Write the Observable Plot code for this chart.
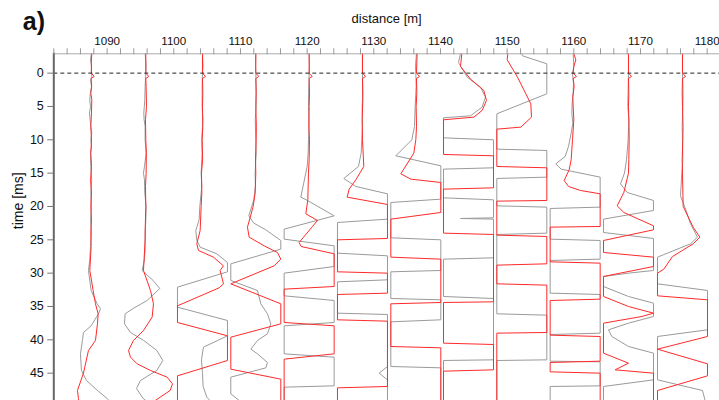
<!DOCTYPE html>
<html><head><meta charset="utf-8">
<script src="https://cdn.jsdelivr.net/npm/d3@7"></script>
<script src="https://cdn.jsdelivr.net/npm/@observablehq/plot@0.6"></script>
<style>body{margin:0;background:#fff;} svg{display:block;}</style>
</head><body><div id="chart"></div>
<script>
// trace positions along the profile (m)
const positions = [1087.6, 1095.8, 1104.3, 1112.3, 1120.3, 1128.3, 1136.3, 1144.2, 1152.2, 1160.2, 1168.2, 1176.3];
const xTicks = d3.range(1082, 1182, 2);
const yTicks = [0, 5, 10, 15, 20, 25, 30, 35, 40, 45];
// [time ms, displacement m] per trace
const gray1 = [[-3,0.05],[-2,-0.1],[-1,0.08],[0,0],[0.5,0.1],[1,-0.08],[2,0.05],[3,-0.12],[4,-0.2],[5,-0.1],[6,-0.25],[7,-0.15],[8,-0.05],[9,0.1],[10,-0.05],[11,0.08],[12,-0.1],[14,-0.05],[16,0.08],[18,-0.05],[20,0.05],[22,-0.08],[24,0.05],[26,-0.1],[28,-0.2],[29.6,-0.4],[32.6,0],[34.6,0.9],[35.3,1.4],[36.1,1.1],[37.9,0],[38.9,-1.15],[40.1,-1.3],[42.1,-1.6],[44.6,-1.45],[46.1,-0.7],[47.6,0.95],[48.8,2.4],[49.5,3.0]];
const red1 = [[-3,0.1],[-1.5,0.02],[0,0.05],[0.5,0.45],[0.8,0],[2,0.08],[3,-0.05],[4,0.1],[6,0.05],[8,-0.05],[10,0.05],[12,-0.05],[14,0.05],[16,-0.08],[18,0.05],[20,-0.05],[22,0.05],[24,-0.05],[26,0],[29.6,-0.2],[32.6,0.3],[34.6,0.65],[36.1,1.05],[37.6,0.95],[40.1,0.65],[41.6,-0.4],[45,-1.15],[47.6,-2.05],[48.8,-1.9],[49.5,-1.8]];
const gray2 = [[-3,-0.1],[-1,0.05],[0,0],[2,-0.1],[4,-0.15],[6,-0.3],[7,-0.25],[8,-0.1],[10,-0.1],[12,0.05],[14,-0.2],[15,-0.35],[16,-0.2],[18,-0.15],[20,0.05],[22,0],[24,-0.1],[26,-0.1],[28,-0.2],[29.6,-0.55],[31.1,1.1],[32.3,2.1],[34.1,0.2],[35.3,-1.9],[36.1,-3.1],[37.6,-3.2],[38.9,-2.3],[40.1,-0.3],[41.6,1.65],[43.1,2.55],[44.6,1.65],[46.1,-0.8],[47.3,-1.4],[48.8,-0.4],[49.5,0.5]];
const red2 = [[-3,0],[0,0],[0.5,0.45],[0.8,0],[2,0.05],[5,0.1],[7,-0.05],[10,0],[12,0.08],[15,0.05],[17,-0.05],[20,0],[23,-0.08],[25,-0.1],[29.6,-0.35],[32.6,0.7],[34.6,1.15],[36.6,0.95],[38.6,-0.35],[40.1,-1.85],[41.6,-2.6],[42.6,-2.3],[43.6,-1.3],[44.6,0.7],[45.6,3.2],[46.6,4.0],[47.6,3.65],[48.9,1.7],[49.5,0.8]];
const gray3 = [[-3,0],[-1,0.08],[0,0],[2,-0.05],[5,-0.05],[7,0.05],[10,-0.1],[12,-0.05],[15,-0.2],[17,-0.1],[20,-0.4],[22,-0.5],[23.6,-1.0],[25.1,-0.85],[26.1,-0.35],[27.1,2.15],[28.4,3.75],[29.8,3.75],[32.1,-3.75],[35.1,-3.75],[37.1,3.75],[39.4,3.75],[41.1,0.15],[43,-0.15],[45,0],[47,0.1],[48.6,0.65],[49.5,1.5]];
const red3 = [[-3,0],[0,0],[0.5,0.45],[0.8,0],[3,0.05],[5,0],[8,0.05],[10,-0.05],[13,0.02],[15,-0.15],[18,-0.1],[20,-0.2],[23.6,-0.35],[25.6,-0.85],[26.6,-0.6],[27.6,1.65],[28.9,3.15],[29.6,2.65],[31.6,3.15],[32.2,2.5],[34.9,-3.75],[37.4,-3.75],[39.4,3.75],[43.1,3.75],[45.4,-3.75],[49.5,-3.75]];
const gray4 = [[-3,0],[-1,-0.05],[0,0],[2,0.05],[5,0.05],[7,-0.08],[10,0],[12,0.05],[15,-0.1],[17,-0.05],[19,-0.3],[21.4,-1.05],[22.5,-0.3],[23.5,1.5],[25.1,3.75],[26.4,3.75],[28.6,-3.75],[31.1,-3.75],[32.6,0.25],[34.6,0.75],[36.1,1.75],[37.6,2.25],[39.1,1.75],[40.1,0.25],[41.4,-0.75],[42.1,0.25],[43.4,1.75],[44.2,1.5],[45.6,-3.75],[48.1,-3.75],[49.5,-2]];
const red4 = [[-3,0],[0,0],[0.5,0.45],[0.8,0],[3,0.05],[5,0],[8,0.08],[10,0.05],[13,-0.05],[15,0],[18,-0.1],[20,-0.4],[23.1,-1.25],[24.6,-1.0],[25.9,1.25],[26.9,3.25],[27.9,3.75],[28.9,2.75],[31.6,-3.75],[34.6,3.75],[37.6,3.75],[39.6,-3.75],[44.4,-3.75],[45.9,3.75],[49.5,3.75]];
const gray5 = [[-3,0],[-1,0.05],[0,0],[3,-0.08],[5,-0.1],[8,0],[10,-0.1],[12,-0.15],[14,-0.3],[17.4,-1.0],[18.6,-1.25],[19.1,-0.25],[21.4,3.75],[23.4,-3.75],[24.9,-3.75],[25.9,3.75],[29,3.75],[30,-3.75],[33.4,-3.75],[34.1,3.75],[37.4,3.75],[37.9,-3.75],[42.1,-3.75],[42.6,3.75],[46.9,3.75],[47.1,-3.75],[49.5,-3.75]];
const red5 = [[-3,0],[0,0],[0.5,0.45],[0.8,0],[3,0.05],[5,0],[8,-0.05],[10,0.05],[13,0],[15,-0.1],[19,-0.2],[21.1,-0.5],[22.1,1.25],[23,0.5],[25.4,-1.5],[26,-1.2],[27.1,3.75],[32,3.75],[32.4,-3.75],[37.4,-3.75],[37.9,3.75],[42.1,3.75],[42.9,-3.75],[49.5,-3.75]];
const gray6 = [[-3,0],[0,0],[3,0.05],[5,-0.05],[8,0],[10,-0.1],[12,-0.2],[14,-0.6],[15.8,-2.8],[17,-1],[18.1,3.75],[21.9,3.75],[22.4,-3.75],[27,-3.75],[27.4,3.75],[31,3.75],[31.3,-3.75],[36,-3.75],[36.2,3.75],[44,3.75],[45,2.5],[46,3.75],[49.5,3.75]];
const red6 = [[-3,0],[0,0],[0.5,0.45],[0.8,0],[4,0.05],[7,-0.05],[10,0],[12,0.1],[14,0.2],[16,-1],[17.4,-2.0],[18.6,-2.3],[19.7,3.75],[24.8,3.75],[25,-3.75],[29.8,-3.75],[30,3.75],[33,3.75],[33.2,-3.75],[37,-3.75],[37.2,3.75],[47,3.75],[47.2,-3.75],[49.5,-3.75]];
const gray7 = [[-3,0.1],[-1,-0.05],[0,0],[2,0.05],[5,-0.1],[8,-0.2],[10,-0.6],[12.4,-3.0],[13.9,3.75],[18.9,3.75],[19.4,-3.75],[24.7,-3.75],[25,3.75],[29.6,3.75],[29.8,-3.75],[33.8,-3.75],[34,3.75],[37,3.75],[37.3,-3.75],[44,-3.75],[44.2,3.75],[49.5,3.75]];
const red7 = [[-3,0.2],[0,0.1],[0.5,0.55],[0.8,0.1],[3,0.15],[5,0.05],[8,0.1],[10,0],[12,-0.3],[15.1,-2.25],[15.9,-0.75],[16.4,3.75],[20.9,3.75],[21.9,-3.75],[27.6,-3.75],[27.9,3.75],[34.4,3.75],[34.6,-3.75],[41,-3.75],[41.2,3.75],[49.5,3.75]];
const gray8 = [[-2.9,-1.2],[-1.6,-1.5],[0.6,-0.2],[2.1,1.8],[3.6,2.55],[5.1,2.05],[6.4,0.3],[6.7,-3.75],[9.7,-3.75],[10,3.75],[14.2,3.75],[14.4,-3.75],[18.7,-3.75],[19,3.75],[21.7,3.75],[21.8,-1.2],[21.9,3.75],[27.7,3.75],[27.9,-3.75],[33.5,-3.75],[33.8,3.75],[43,3.75],[43.1,-3.75],[49.5,-3.75]];
const red8 = [[-2.9,-1.0],[-1,-1.2],[0.9,0.3],[2.6,2.3],[4.1,2.7],[5.6,2.05],[6.6,0.8],[7,-3.75],[12.2,-3.75],[12.4,3.75],[17.2,3.75],[17.4,-3.75],[24,-3.75],[24.2,3.75],[34.3,3.75],[34.4,-3.75],[40.5,-3.75],[40.7,3.75],[44.5,3.75],[44.7,-3.75],[49.5,-3.75]];
const gray9 = [[-2.9,0.0],[-2.6,0.1],[-1.4,3.75],[3.1,3.75],[6.1,-3.75],[11.4,-3.75],[11.6,3.75],[15.6,3.75],[15.8,-3.75],[19.9,-3.75],[20.1,3.75],[24,3.75],[24.2,-3.75],[36.1,-3.75],[36.3,3.75],[43,3.75],[43.1,-3.75],[49.5,-3.75]];
const red9 = [[-2.9,-2.1],[-2,-2.2],[0.6,-0.65],[3.1,0.6],[4.6,1.35],[6.6,1.45],[8.1,-0.15],[8.4,-3.75],[14,-3.75],[14.2,3.75],[19.1,3.75],[19.2,-3.75],[24.3,-3.75],[24.5,3.75],[28.6,3.75],[28.8,-3.75],[31.6,-3.75],[31.8,3.75],[38.9,3.75],[39,-3.75],[49.5,-3.75]];
const gray10 = [[-2.9,-0.3],[-1,-0.2],[0,-0.4],[1.5,-0.25],[3,-0.3],[4.5,-0.45],[6,-0.5],[7.5,-0.35],[9,-0.6],[11,-1.0],[12.5,-1.5],[13.6,-2.9],[14.4,-2.1],[15.6,3.75],[20.1,3.75],[20.3,-3.75],[24.9,-3.75],[25.1,3.75],[27.9,3.75],[28.1,-3.75],[33,-3.75],[33.2,3.75],[39,3.75],[39.2,-3.75],[43.2,-3.75],[43.3,3.75],[46.9,3.75],[47,-3.75],[49.5,-3.75]];
const red10 = [[-2.9,-0.2],[-2,0.1],[-1,-0.2],[0,-0.3],[0.5,0.2],[0.8,-0.3],[2,-0.15],[3.5,-0.35],[5,-0.3],[7,-0.2],[10,-0.4],[13,-0.6],[14.5,-0.9],[16.1,-1.65],[17,-1.0],[17.6,0.8],[18.1,3.75],[23,3.75],[23.1,-3.75],[28.3,-3.75],[28.5,3.75],[33.9,3.75],[34.1,-3.75],[39.3,-3.75],[39.5,3.75],[43.2,3.75],[43.4,-3.75],[44.8,-3.75],[45,3.75],[49.5,3.75]];
const gray11 = [[-2.9,0],[0,0],[2,-0.05],[5,-0.1],[7,0.05],[10,-0.05],[13,-0.3],[15,-0.6],[16.6,-1.2],[17.9,-0.2],[19.1,3.75],[20.6,3.75],[21.9,-3.75],[23.9,-3.75],[24.8,3.75],[29.6,3.75],[30,0],[30.5,-3.75],[32,-3.75],[33.5,0],[34.5,3.75],[36.5,3.75],[37.5,0],[38.5,-3],[39.5,-2.5],[41,0],[42,3.75],[46,3.75],[47,-3.75],[49.5,-3.75]];
const red11 = [[-2.9,0],[0,0],[0.5,0.45],[0.8,0],[3,0.05],[5,0],[8,0.08],[10,0.1],[13,0.05],[15,0],[17.9,-0.7],[19.9,-1.7],[20.9,-0.7],[22.9,3.75],[23.5,3.75],[25.1,-3.75],[26.9,-3.75],[27.6,3.75],[29,3.75],[30.5,-3.75],[33.5,-3.75],[35,0],[36,3.75],[36.5,2],[37.5,-3.75],[42,-3.75],[43.5,0],[44.5,-2],[45,3.75],[49.5,3.75]];
const gray12 = [[-2.9,0],[0,0],[3,0.08],[5,0.05],[8,-0.05],[10,0],[13,0.05],[15,-0.1],[18.4,-0.3],[20.5,0.5],[22.6,1.2],[24.6,2.25],[25.6,1.2],[27.6,-3.75],[31.6,-3.75],[32.6,3.75],[38.5,3.75],[39.5,-3.75],[46,-3.75],[47.6,3.0],[49.5,3.5]];
const red12 = [[-2.9,0],[0,0],[0.5,0.45],[0.8,0],[3,-0.05],[5,0],[8,0.08],[10,0.05],[13,-0.05],[15,0],[20,0.1],[23.1,1.6],[24.6,2.6],[25.6,1.6],[27.5,-1.5],[29.4,-2.8],[30,-3.75],[33.4,-3.75],[34,3.75],[39.5,3.75],[41.4,-3.75],[43.6,3.75],[45.4,3.75],[47.6,-3.75],[49.5,-3.75]];

const grays = [gray1,gray2,gray3,gray4,gray5,gray6,gray7,gray8,gray9,gray10,gray11,gray12];
const reds = [red1,red2,red3,red4,red5,red6,red7,red8,red9,red10,red11,red12];

const traceMarks = [];
grays.forEach((g, i) => traceMarks.push(Plot.line(g, {x: d => positions[i] + d[1], y: d => d[0], stroke: "#9a9a9a", strokeWidth: 1, clip: true})));
reds.forEach((r, i) => traceMarks.push(Plot.line(r, {x: d => positions[i] + d[1], y: d => d[0], stroke: "#ff2a2a", strokeWidth: 1, clip: true})));

const chart = Plot.plot({
  width: 719, height: 400,
  marginTop: 53.3, marginLeft: 53.3, marginRight: 0, marginBottom: 0,
  style: {fontFamily: "'Liberation Sans', Arial, sans-serif", fontSize: "12px", color: "#111", background: "#fff"},
  x: {domain: [1082, 1181.85]},
  y: {domain: [-2.9, 49.1], reverse: true},
  marks: [
    ...traceMarks,
    Plot.ruleY([0], {stroke: "#222", strokeDasharray: "4,3", strokeWidth: 1}),
    Plot.frame({anchor: "top", stroke: "#aaa"}),
    Plot.frame({anchor: "left", stroke: "#666", strokeWidth: 2}),
    Plot.axisX({anchor: "top", ticks: xTicks, tickSize: 6, tickFormat: d => d % 10 === 0 ? String(d) : "", stroke: "#999", label: null, tickPadding: 3, fontSize: 11.6}),
    Plot.axisY({anchor: "left", ticks: yTicks, tickSize: 6, stroke: "#777", label: null, tickPadding: 4, fontSize: 12.5}),
    Plot.text(["distance [m]"], {frameAnchor: "top", dy: -40, fontSize: 13}),
    Plot.text(["time [ms]"], {frameAnchor: "left", dx: -35, dy: 2, rotate: -90, fontSize: 14}),
    Plot.text(["a)"], {frameAnchor: "top-left", dx: -31, dy: -42, textAnchor: "start", fontSize: 25, fontWeight: "bold"})
  ]
});
document.getElementById("chart").append(chart);
</script></body></html>
